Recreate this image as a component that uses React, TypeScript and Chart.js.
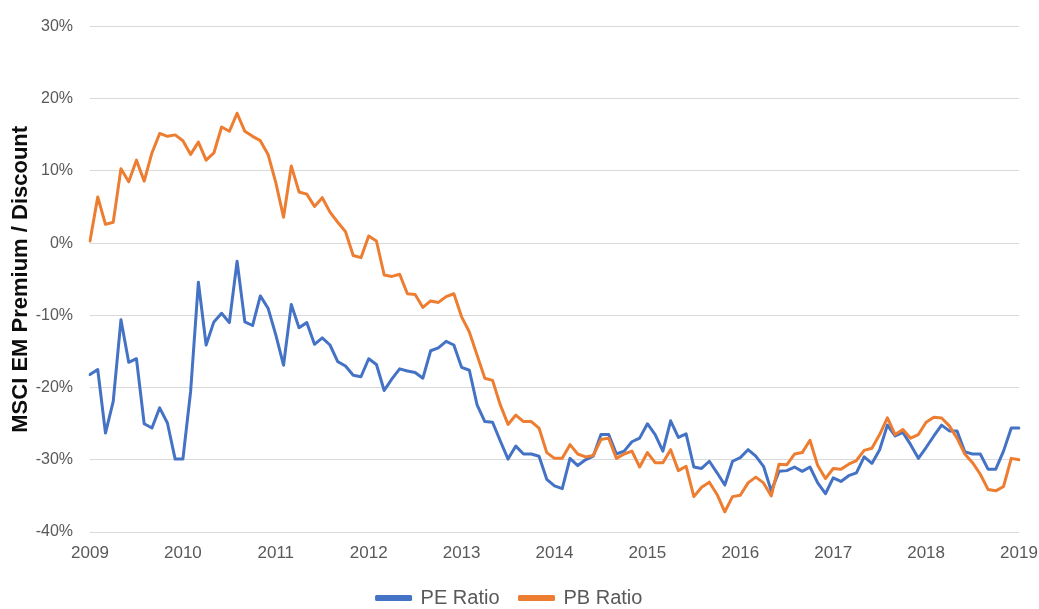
import React, { useEffect, useRef } from "react";
import { Chart, registerables } from "chart.js";

Chart.register(...registerables);

const startYear = 2009;
const monthCount = 121;
const monthLabels: string[] = Array.from({ length: monthCount }, (_, i) => {
  const y = startYear + Math.floor(i / 12);
  const m = (i % 12) + 1;
  return `${y}-${m < 10 ? "0" + m : m}`;
});

const yTicks = [-40, -30, -20, -10, 0, 10, 20, 30];

const peRatio = [
  -18.2, -17.5, -26.3, -21.9, -10.6, -16.5, -16.0, -25.0, -25.6, -22.8, -24.9, -29.9,
  -29.9, -20.5, -5.4, -14.1, -10.9, -9.7, -11.0, -2.5, -10.9, -11.4, -7.3, -9.0,
  -12.7, -16.9, -8.5, -11.7, -11.0, -14.0, -13.1, -14.1, -16.4, -17.0, -18.3, -18.5,
  -16.0, -16.8, -20.4, -18.8, -17.4, -17.7, -17.9, -18.7, -14.9, -14.5, -13.6, -14.1,
  -17.2, -17.6, -22.4, -24.7, -24.8, -27.4, -29.9, -28.1, -29.2, -29.2, -29.5, -32.7,
  -33.6, -34.0, -29.8, -30.8, -30.0, -29.5, -26.5, -26.5, -29.2, -28.8, -27.5, -27.0,
  -25.0, -26.5, -28.8, -24.6, -26.9, -26.4, -31.0, -31.2, -30.2, -31.8, -33.5, -30.2,
  -29.7, -28.6, -29.5, -30.9, -34.3, -31.6, -31.5, -31.0, -31.6, -31.0, -33.2, -34.7,
  -32.5, -33.0, -32.2, -31.8, -29.6, -30.5, -28.6, -25.2, -26.7, -26.2, -27.9, -29.8,
  -28.3, -26.7, -25.2, -26.0, -26.0, -28.9, -29.2, -29.2, -31.3, -31.3, -28.8, -25.6,
  -25.6,
];

const pbRatio = [
  0.3, 6.4, 2.6, 2.9, 10.3, 8.5, 11.5, 8.6, 12.5, 15.2, 14.8, 15.0,
  14.2, 12.3, 14.0, 11.5, 12.5, 16.1, 15.5, 18.0, 15.5, 14.8, 14.2, 12.3,
  8.4, 3.6, 10.7, 7.1, 6.8, 5.1, 6.3, 4.3, 2.9, 1.6, -1.7, -2.0,
  1.0, 0.3, -4.4, -4.6, -4.3, -7.0, -7.1, -8.9, -8.0, -8.2, -7.4, -7.0,
  -10.2, -12.3, -15.5, -18.7, -19.0, -22.4, -25.1, -23.8, -24.7, -24.7, -25.6, -29.0,
  -29.8, -29.8, -27.9, -29.2, -29.6, -29.4, -27.2, -27.0, -29.8, -29.2, -28.8, -31.0,
  -29.0, -30.4, -30.4, -28.6, -31.5, -30.9, -35.1, -33.8, -33.1, -34.8, -37.2, -35.1,
  -34.9, -33.2, -32.4, -33.2, -35.0, -30.6, -30.7, -29.2, -29.0, -27.3, -30.8, -32.6,
  -31.2, -31.3, -30.6, -30.1, -28.7, -28.4, -26.5, -24.2, -26.5, -25.8, -27.0, -26.5,
  -24.8, -24.1, -24.2, -25.3, -27.0, -29.2, -30.4, -32.0, -34.1, -34.3, -33.7, -29.8,
  -30.0,
];

const seriesNames = ["PE Ratio", "PB Ratio"];
const seriesColors = ["#4472C4", "#ED7D31"];
const yTitle = "MSCI EM Premium / Discount";

const FONT = "'Liberation Sans', Arial, sans-serif";

export default function App() {
  const ref = useRef<HTMLCanvasElement | null>(null);

  useEffect(() => {
    if (!ref.current) return;
    const chart = new Chart(ref.current, {
      type: "line",
      data: {
        labels: monthLabels,
        datasets: [
          {
            label: seriesNames[0],
            data: peRatio,
            borderColor: seriesColors[0],
            backgroundColor: seriesColors[0],
            borderWidth: 3,
            pointRadius: 0,
            tension: 0,
            borderJoinStyle: "round",
            borderCapStyle: "round",
            order: 1,
          },
          {
            label: seriesNames[1],
            data: pbRatio,
            borderColor: seriesColors[1],
            backgroundColor: seriesColors[1],
            borderWidth: 3,
            pointRadius: 0,
            tension: 0,
            borderJoinStyle: "round",
            borderCapStyle: "round",
            order: 0,
          },
        ],
      },
      options: {
        responsive: false,
        animation: false,
        devicePixelRatio: 1,
        layout: { padding: { top: 24, right: 20, left: 0, bottom: 0 } },
        plugins: {
          tooltip: { enabled: false },
          legend: {
            position: "bottom",
            labels: {
              boxWidth: 34,
              boxHeight: 3,
              padding: 20,
              color: "#595959",
              font: { family: FONT, size: 20 },
              sort: (a: any, b: any) => a.datasetIndex - b.datasetIndex,
            },
          },
        },
        scales: {
          x: {
            type: "category",
            offset: false,
            grid: { display: false, drawTicks: false },
            border: { display: false },
            afterFit: (scale: any) => {
              scale.height = 36;
              scale.paddingRight = 0;
              scale.paddingLeft = 0;
            },
            ticks: {
              autoSkip: false,
              maxRotation: 0,
              minRotation: 0,
              padding: 11,
              color: "#595959",
              font: { family: FONT, size: 17 },
              callback: (_v: any, i: number) =>
                i % 12 === 0 ? String(startYear + i / 12) : "",
            },
          },
          y: {
            min: yTicks[0],
            max: yTicks[yTicks.length - 1],
            afterFit: (scale: any) => {
              scale.width = 90;
            },
            afterBuildTicks: (scale: any) => {
              scale.ticks = yTicks.map((v) => ({ value: v }));
            },
            grid: { color: "#d9d9d9", lineWidth: 1, drawTicks: false },
            border: { display: false },
            ticks: {
              padding: 17,
              color: "#595959",
              font: { family: FONT, size: 16 },
              callback: (v: any) => `${v}%`,
            },
            title: {
              display: true,
              text: yTitle,
              color: "#0d0d0d",
              font: { family: FONT, size: 22, weight: "bold" },
              padding: { top: 8, bottom: 0 },
            },
          },
        },
      },
    });
    return () => chart.destroy();
  }, []);

  return (
    <div
      style={{
        position: "fixed",
        left: 0,
        top: 0,
        width: 1039,
        height: 609,
        overflow: "hidden",
        background: "#ffffff",
      }}
    >
      <canvas
        ref={ref}
        width={1039}
        height={618}
        style={{ display: "block", width: 1039, height: 618 }}
      />
    </div>
  );
}
